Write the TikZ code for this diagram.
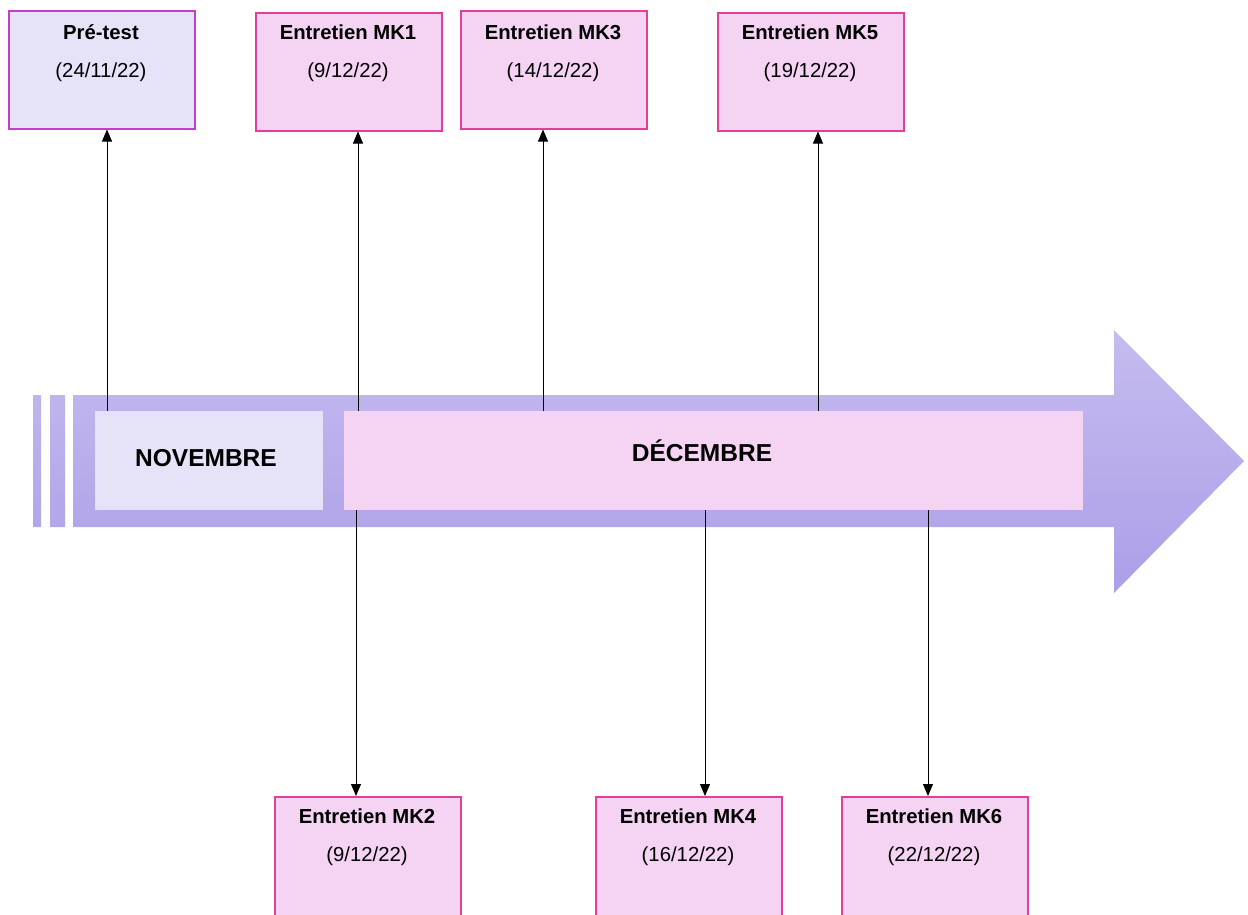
\documentclass[tikz,border=0pt]{standalone}
\usepackage{fontspec}
\setmainfont{Liberation Sans}
\usetikzlibrary{arrows.meta}
\definecolor{lav}{HTML}{E6E2F8}
\definecolor{pinkf}{HTML}{F4D3F3}
\definecolor{purb}{HTML}{C83CCC}
\definecolor{pinkb}{HTML}{E23E9A}
\definecolor{arrtop}{HTML}{C5BCEF}
\definecolor{arrbot}{HTML}{AD9EE8}
\tikzset{
  evbox/.style={draw=pinkb, line width=1.5pt, fill=pinkf, minimum width=186pt, minimum height=118pt, inner sep=0pt, anchor=north west},
  lowbox/.style={evbox, minimum height=140pt},
  prebox/.style={evbox, draw=purb, fill=lav},
  ttl/.style={font=\fontsize{20.3}{23}\selectfont\bfseries, anchor=base},
  dte/.style={font=\fontsize{20.3}{23}\selectfont, anchor=base},
  month/.style={font=\fontsize{24.5}{28}\selectfont\bfseries},
  conn/.style={draw=black, line width=0.8pt, -{Triangle[length=12pt,width=10pt]}},
}
\begin{document}
\begin{tikzpicture}[x=1pt,y=-1pt]
\useasboundingbox (0,0) rectangle (1248,914);
\clip (0,0) rectangle (1248,914);
% big arrow with stripes
\shade[top color=arrtop, bottom color=arrbot]
  (73,395) -- (1114,395) -- (1114,330) -- (1244,461) -- (1114,593) -- (1114,527) -- (73,527) -- cycle
  (33,395) rectangle (41,527)
  (50,395) rectangle (65,527);
% month boxes
\node[fill=lav, minimum width=228pt, minimum height=99pt, inner sep=0pt, anchor=north west] (nov) at (95,411) {};
\node[month] (novt) at (206,458) {NOVEMBRE};
\node[fill=pinkf, minimum width=739pt, minimum height=99pt, inner sep=0pt, anchor=north west] (dec) at (344,411) {};
\node[month] (dect) at (702,451) {DÉCEMBRE};
% event boxes
\node[prebox] (pre) at (8,10) {};
\node[ttl] (pret) at (101,39) {Pré-test};
\node[dte] (pred) at (101,77) {(24/11/22)};
\node[evbox] (mk1) at (255,12) {};
\node[ttl] (mk1t) at (348,39) {Entretien MK1};
\node[dte] (mk1d) at (348,77) {(9/12/22)};
\node[evbox] (mk3) at (460,10) {};
\node[ttl] (mk3t) at (553,39) {Entretien MK3};
\node[dte] (mk3d) at (553,77) {(14/12/22)};
\node[evbox] (mk5) at (717,12) {};
\node[ttl] (mk5t) at (810,39) {Entretien MK5};
\node[dte] (mk5d) at (810,77) {(19/12/22)};
\node[lowbox] (mk2) at (274,796) {};
\node[ttl] (mk2t) at (367,823) {Entretien MK2};
\node[dte] (mk2d) at (367,861) {(9/12/22)};
\node[lowbox] (mk4) at (595,796) {};
\node[ttl] (mk4t) at (688,823) {Entretien MK4};
\node[dte] (mk4d) at (688,861) {(16/12/22)};
\node[lowbox] (mk6) at (841,796) {};
\node[ttl] (mk6t) at (934,823) {Entretien MK6};
\node[dte] (mk6d) at (934,861) {(22/12/22)};
% connector anchors
\coordinate (a0) at (107,411);
\coordinate (a1) at (358,411);
\coordinate (a3) at (543,411);
\coordinate (a5) at (818,411);
\coordinate (b2) at (356,510);
\coordinate (b4) at (705,510);
\coordinate (b6) at (928,510);
\draw[conn] (a0) -- (a0 |- pre.south);
\draw[conn] (a1) -- (a1 |- mk1.south);
\draw[conn] (a3) -- (a3 |- mk3.south);
\draw[conn] (a5) -- (a5 |- mk5.south);
\draw[conn] (b2) -- (b2 |- mk2.north);
\draw[conn] (b4) -- (b4 |- mk4.north);
\draw[conn] (b6) -- (b6 |- mk6.north);
\end{tikzpicture}
\end{document}
